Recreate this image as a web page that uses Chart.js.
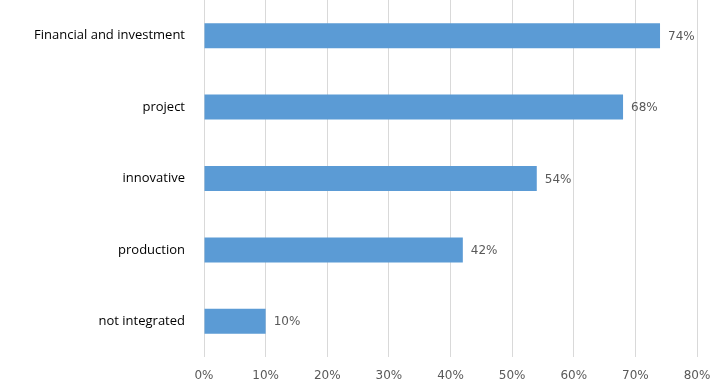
<!DOCTYPE html>
<html lang="en">
<head>
    <meta charset="UTF-8">
    <title>Integration types</title>
    <script src="https://cdn.jsdelivr.net/npm/chart.js"></script>
    <style>
        html, body { margin: 0; padding: 0; background: #fff; }
        .wrap { width: 711px; height: 381px; }
    </style>
</head>
<body>
    <div class="wrap">
        <canvas id="chart" width="711" height="381"></canvas>
    </div>

    <script>
        // data
        const categories = ['Financial and investment', 'project', 'innovative', 'production', 'not integrated'];
        const shares = [74, 68, 54, 42, 10];
        const tickValues = [0, 10, 20, 30, 40, 50, 60, 70, 80];

        // draws "74%" etc. right after each bar
        const barLabels = {
            id: 'barLabels',
            afterDatasetsDraw(chart) {
                const ctx = chart.ctx;
                const meta = chart.getDatasetMeta(0);
                ctx.save();
                ctx.font = '12px "DejaVu Sans"';
                ctx.fillStyle = '#595959';
                ctx.textBaseline = 'middle';
                ctx.textAlign = 'left';
                meta.data.forEach((bar, i) => {
                    ctx.fillText(shares[i] + '%', bar.x + 8, bar.y + 1);
                });
                ctx.restore();
            }
        };

        new Chart(document.getElementById('chart'), {
            type: 'bar',
            data: {
                labels: categories,
                datasets: [{
                    data: shares,
                    backgroundColor: '#5b9bd5',
                    borderWidth: 0,
                    categoryPercentage: 0.35,
                    barPercentage: 1
                }]
            },
            options: {
                indexAxis: 'y',
                responsive: false,
                animation: false,
                layout: { padding: { top: 0, right: 14, bottom: 0, left: 0 } },
                plugins: {
                    legend: { display: false },
                    tooltip: { enabled: false }
                },
                scales: {
                    x: {
                        min: 0,
                        max: 80,
                        afterBuildTicks(scale) {
                            scale.ticks = tickValues.map(v => ({ value: v }));
                        },
                        afterFit(scale) {
                            scale.height = 24;
                            scale.paddingLeft = 0;
                            scale.paddingRight = 0;
                        },
                        grid: { color: '#d9d9d9', drawTicks: false },
                        border: { display: false },
                        ticks: {
                            padding: 12,
                            color: '#595959',
                            font: { family: 'DejaVu Sans', size: 12 },
                            callback: v => v + '%'
                        }
                    },
                    y: {
                        afterFit(scale) {
                            scale.width = 204;
                            scale.paddingTop = 0;
                            scale.paddingBottom = 0;
                        },
                        grid: { display: false, drawTicks: false },
                        border: { display: false },
                        ticks: {
                            padding: 19,
                            color: '#000',
                            font: { family: 'Open Sans', size: 13 }
                        }
                    }
                }
            },
            plugins: [barLabels]
        });
    </script>
</body>
</html>
